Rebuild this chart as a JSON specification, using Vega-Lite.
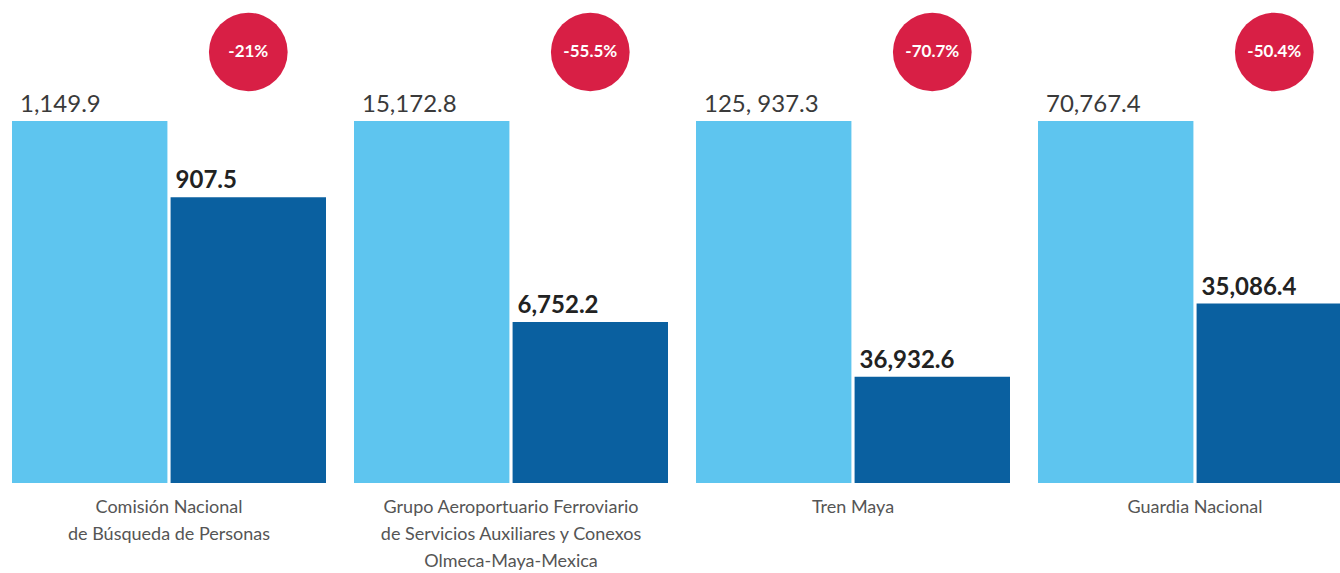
{
  "$schema": "https://vega.github.io/schema/vega-lite/v6.json",
  "background": "white",
  "padding": {"left": 12, "top": 12, "right": 0, "bottom": 0},
  "data": {"values": [
    {"categoria": "Comisión Nacional|de Búsqueda de Personas", "anterior": 1149.9, "actual": 907.5, "etq_ant": "1,149.9", "etq_act": "907.5", "cambio": "-21%"},
    {"categoria": "Grupo Aeroportuario Ferroviario|de Servicios Auxiliares y Conexos|Olmeca-Maya-Mexica", "anterior": 15172.8, "actual": 6752.2, "etq_ant": "15,172.8", "etq_act": "6,752.2", "cambio": "-55.5%"},
    {"categoria": "Tren Maya", "anterior": 125937.3, "actual": 36932.6, "etq_ant": "125, 937.3", "etq_act": "36,932.6", "cambio": "-70.7%"},
    {"categoria": "Guardia Nacional", "anterior": 70767.4, "actual": 35086.4, "etq_ant": "70,767.4", "etq_act": "35,086.4", "cambio": "-50.4%"}
  ]},
  "facet": {
    "column": {
      "field": "categoria",
      "type": "nominal",
      "sort": ["Comisión Nacional|de Búsqueda de Personas", "Grupo Aeroportuario Ferroviario|de Servicios Auxiliares y Conexos|Olmeca-Maya-Mexica", "Tren Maya", "Guardia Nacional"],
      "header": {
        "title": null,
        "labelOrient": "bottom",
        "labelExpr": "split(datum.value, '|')",
        "labelFont": "Lato",
        "labelFontSize": 18,
        "labelColor": "#555555",
        "labelPadding": 16,
        "labelLineHeight": 27,
        "labelBaseline": "top"
      }
    }
  },
  "spacing": 28,
  "resolve": {"scale": {"y": "independent"}},
  "spec": {
    "width": 314,
    "height": 362,
    "transform": [
      {"fold": ["anterior", "actual"], "as": ["serie", "valor"]}
    ],
    "encoding": {
      "x": {"field": "serie", "type": "nominal", "sort": ["anterior", "actual"], "axis": null,
            "scale": {"paddingInner": 0.02, "paddingOuter": 0}}
    },
    "layer": [
      {
        "mark": {"type": "bar"},
        "encoding": {
          "y": {"field": "valor", "type": "quantitative", "axis": null, "scale": {"nice": false, "zero": true}},
          "color": {"field": "serie", "type": "nominal", "legend": null,
                    "scale": {"domain": ["anterior", "actual"], "range": ["#5ec5ef", "#0a60a0"]}}
        }
      },
      {
        "transform": [{"filter": "datum.serie === 'anterior'"}],
        "mark": {"type": "text", "align": "left", "baseline": "alphabetic", "dx": 8, "dy": -9, "font": "Lato", "fontSize": 24, "color": "#3a3a3a"},
        "encoding": {
          "x": {"field": "serie", "type": "nominal", "sort": ["anterior", "actual"], "bandPosition": 0},
          "y": {"field": "valor", "type": "quantitative"},
          "text": {"field": "etq_ant"}
        }
      },
      {
        "transform": [{"filter": "datum.serie === 'actual'"}],
        "mark": {"type": "text", "align": "left", "baseline": "alphabetic", "dx": 5, "dy": -9, "font": "Lato", "fontSize": 24, "fontWeight": "bold", "color": "#222222"},
        "encoding": {
          "x": {"field": "serie", "type": "nominal", "sort": ["anterior", "actual"], "bandPosition": 0},
          "y": {"field": "valor", "type": "quantitative"},
          "text": {"field": "etq_act"}
        }
      },
      {
        "transform": [{"filter": "datum.serie === 'actual'"}],
        "mark": {"type": "point", "shape": "circle", "filled": true, "opacity": 1, "size": 6200, "color": "#d81f45", "yOffset": -69},
        "encoding": {
          "y": {"field": "anterior", "type": "quantitative"}
        }
      },
      {
        "transform": [{"filter": "datum.serie === 'actual'"}],
        "mark": {"type": "text", "align": "center", "baseline": "middle", "dy": -69, "font": "Lato", "fontSize": 17, "fontWeight": "bold", "color": "white"},
        "encoding": {
          "y": {"field": "anterior", "type": "quantitative"},
          "text": {"field": "cambio"}
        }
      }
    ]
  },
  "config": {"view": {"stroke": null}}
}
